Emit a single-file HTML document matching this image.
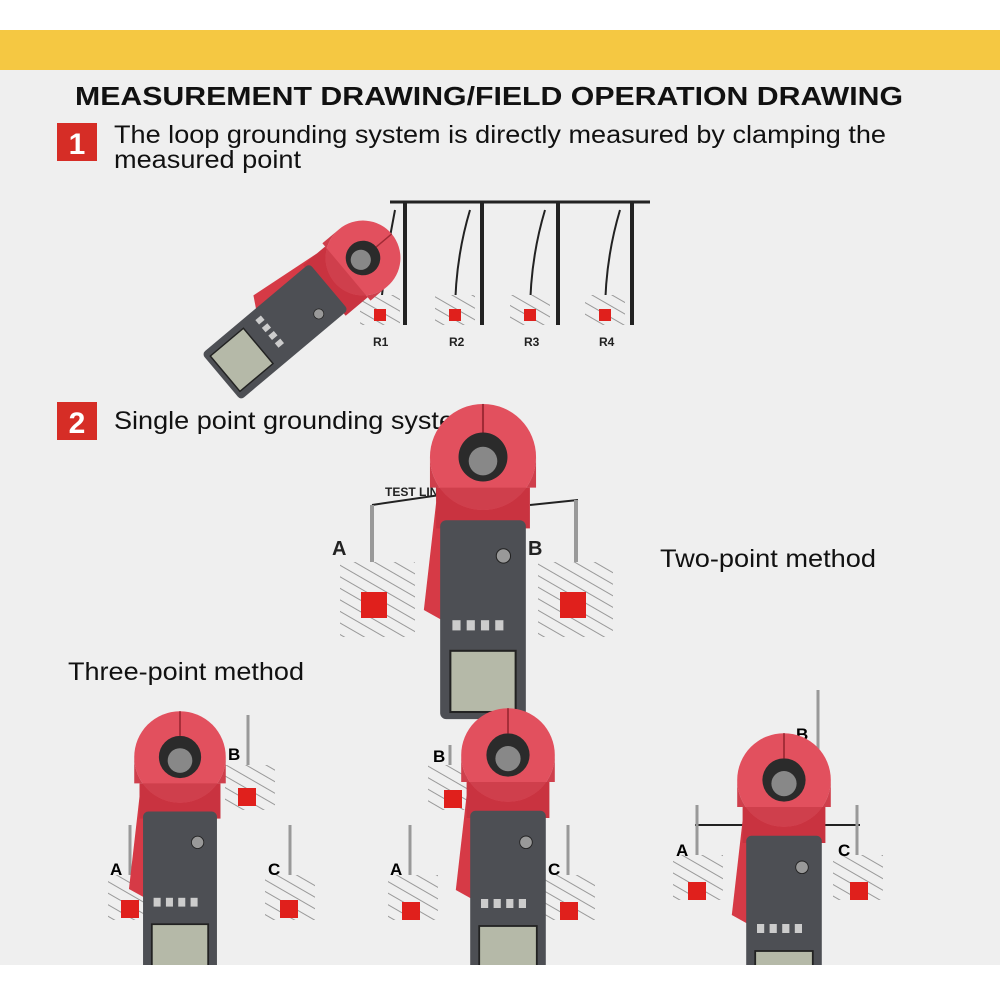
<!DOCTYPE html>
<html><head><meta charset="utf-8"><style>
body{margin:0;width:1000px;height:1000px;overflow:hidden;background:#fff;font-family:"Liberation Sans",sans-serif}
</style></head><body>
<svg width="1000" height="1000" viewBox="0 0 1000 1000" xmlns="http://www.w3.org/2000/svg">
<defs>
<pattern id="h" width="10" height="10" patternUnits="userSpaceOnUse" patternTransform="rotate(-60)">
<rect width="10" height="10" fill="#efefef"/><line x1="0" y1="0" x2="0" y2="10" stroke="#999" stroke-width="2"/></pattern>
<g id="m">
<path d="M-46 45 L-58 150 L-40 160 L-38 60Z" fill="#d63a46"/>
<rect x="-46" y="30" width="92" height="40" fill="#c93340"/>
<circle cx="0" cy="0" r="52" fill="#e2505e"/>
<path d="M-52 0 A52 52 0 0 0 52 0 L52 30 L-52 30Z" fill="#cf3f4c"/>
<circle cx="0" cy="0" r="24" fill="#2b2b2b"/>
<circle cx="0" cy="4" r="14" fill="#888"/>
<line x1="0" y1="-52" x2="0" y2="-24" stroke="#a02a35" stroke-width="2"/>
<rect x="-42" y="62" width="84" height="195" rx="6" fill="#4d4f54"/>
<circle cx="20" cy="97" r="7" fill="#999" stroke="#222"/>
<rect x="-30" y="160" width="8" height="10" fill="#ccc"/><rect x="-16" y="160" width="8" height="10" fill="#ccc"/>
<rect x="-2" y="160" width="8" height="10" fill="#ccc"/><rect x="12" y="160" width="8" height="10" fill="#ccc"/>
<rect x="-32" y="190" width="64" height="60" fill="#b5b9a8" stroke="#222" stroke-width="2"/>
</g>
</defs>
<rect x="0" y="0" width="1000" height="30" fill="#fff"/>
<rect x="0" y="30" width="1000" height="40" fill="#f5c842"/>
<rect x="0" y="70" width="1000" height="895" fill="#efefef"/>
<text x="75" y="105" font-size="26" font-weight="bold" fill="#111" textLength="828" lengthAdjust="spacingAndGlyphs">MEASUREMENT DRAWING/FIELD OPERATION DRAWING</text>
<rect x="57" y="123" width="40" height="38" fill="#d62d26"/>
<text x="77" y="154" text-anchor="middle" font-size="30" font-weight="bold" fill="#fff">1</text>
<text x="114" y="143" font-size="25" fill="#111" textLength="772" lengthAdjust="spacingAndGlyphs">The loop grounding system is directly measured by clamping the</text>
<text x="114" y="168" font-size="25" fill="#111" textLength="187" lengthAdjust="spacingAndGlyphs">measured point</text>
<rect x="57" y="402" width="40" height="38" fill="#d62d26"/>
<text x="77" y="433" text-anchor="middle" font-size="30" font-weight="bold" fill="#fff">2</text>
<text x="114" y="429" font-size="25" fill="#111" textLength="340" lengthAdjust="spacingAndGlyphs">Single point grounding syste</text>
<g stroke="#222" stroke-width="4" fill="none">
<line x1="390" y1="202" x2="650" y2="202" stroke-width="3"/>
<line x1="405" y1="202" x2="405" y2="325"/><line x1="482" y1="202" x2="482" y2="325"/>
<line x1="558" y1="202" x2="558" y2="325"/><line x1="632" y1="202" x2="632" y2="325"/>
<path d="M395 210 Q385 260 380 315" stroke-width="2"/><path d="M470 210 Q455 260 455 315" stroke-width="2"/>
<path d="M545 210 Q530 260 530 315" stroke-width="2"/><path d="M620 210 Q605 260 605 315" stroke-width="2"/>
</g>
<g fill="url(#h)"><rect x="360" y="295" width="40" height="30"/><rect x="435" y="295" width="40" height="30"/><rect x="510" y="295" width="40" height="30"/><rect x="585" y="295" width="40" height="30"/></g>
<g fill="#e0201c"><rect x="374" y="309" width="12" height="12"/><rect x="449" y="309" width="12" height="12"/><rect x="524" y="309" width="12" height="12"/><rect x="599" y="309" width="12" height="12"/></g>
<g font-size="12" font-weight="bold" fill="#222"><text x="373" y="346">R1</text><text x="449" y="346">R2</text><text x="524" y="346">R3</text><text x="599" y="346">R4</text></g>
<use href="#m" transform="translate(363,258) rotate(50) scale(0.72)"/>
<text x="385" y="496" font-size="12" font-weight="bold" fill="#222">TEST LIN</text>
<path d="M372 505 L440 495 M530 505 L578 500" stroke="#222" stroke-width="2" fill="none"/>
<line x1="372" y1="505" x2="372" y2="600" stroke="#999" stroke-width="4"/>
<line x1="576" y1="500" x2="576" y2="600" stroke="#999" stroke-width="4"/>
<rect x="340" y="562" width="75" height="75" fill="url(#h)"/><rect x="538" y="562" width="75" height="75" fill="url(#h)"/>
<rect x="361" y="592" width="26" height="26" fill="#e0201c"/><rect x="560" y="592" width="26" height="26" fill="#e0201c"/>
<text x="332" y="555" font-size="20" font-weight="bold" fill="#222">A</text>
<text x="528" y="555" font-size="20" font-weight="bold" fill="#222">B</text>
<text x="660" y="567" font-size="25" fill="#111" textLength="216" lengthAdjust="spacingAndGlyphs">Two-point method</text>
<use href="#m" transform="translate(483,457) scale(1.02)"/>
<text x="68" y="680" font-size="25" fill="#111" textLength="236" lengthAdjust="spacingAndGlyphs">Three-point method</text>
<g>
<line x1="248" y1="715" x2="248" y2="800" stroke="#999" stroke-width="3"/>
<rect x="225" y="765" width="50" height="45" fill="url(#h)"/><rect x="238" y="788" width="18" height="18" fill="#e0201c"/>
<line x1="130" y1="825" x2="130" y2="920" stroke="#999" stroke-width="3"/>
<rect x="108" y="875" width="50" height="45" fill="url(#h)"/><rect x="121" y="900" width="18" height="18" fill="#e0201c"/>
<line x1="290" y1="825" x2="290" y2="920" stroke="#999" stroke-width="3"/>
<rect x="265" y="875" width="50" height="45" fill="url(#h)"/><rect x="280" y="900" width="18" height="18" fill="#e0201c"/>
<text x="110" y="875" font-size="17" font-weight="bold">A</text><text x="228" y="760" font-size="17" font-weight="bold">B</text><text x="268" y="875" font-size="17" font-weight="bold">C</text>
<use href="#m" transform="translate(180,757) scale(0.88)"/>
</g>
<g>
<line x1="450" y1="745" x2="450" y2="800" stroke="#999" stroke-width="3"/>
<rect x="428" y="765" width="50" height="45" fill="url(#h)"/><rect x="444" y="790" width="18" height="18" fill="#e0201c"/>
<line x1="410" y1="825" x2="410" y2="920" stroke="#999" stroke-width="3"/>
<rect x="388" y="875" width="50" height="45" fill="url(#h)"/><rect x="402" y="902" width="18" height="18" fill="#e0201c"/>
<line x1="568" y1="825" x2="568" y2="920" stroke="#999" stroke-width="3"/>
<rect x="545" y="875" width="50" height="45" fill="url(#h)"/><rect x="560" y="902" width="18" height="18" fill="#e0201c"/>
<text x="390" y="875" font-size="17" font-weight="bold">A</text><text x="433" y="762" font-size="17" font-weight="bold">B</text><text x="548" y="875" font-size="17" font-weight="bold">C</text>
<use href="#m" transform="translate(508,755) scale(0.9)"/>
</g>
<g>
<line x1="818" y1="690" x2="818" y2="790" stroke="#999" stroke-width="3"/>
<line x1="695" y1="825" x2="860" y2="825" stroke="#222" stroke-width="2"/>
<line x1="697" y1="805" x2="697" y2="900" stroke="#999" stroke-width="3"/>
<line x1="857" y1="805" x2="857" y2="900" stroke="#999" stroke-width="3"/>
<rect x="673" y="855" width="50" height="45" fill="url(#h)"/><rect x="688" y="882" width="18" height="18" fill="#e0201c"/>
<rect x="833" y="855" width="50" height="45" fill="url(#h)"/><rect x="850" y="882" width="18" height="18" fill="#e0201c"/>
<text x="676" y="856" font-size="17" font-weight="bold">A</text><text x="796" y="740" font-size="17" font-weight="bold">B</text><text x="838" y="856" font-size="17" font-weight="bold">C</text>
<use href="#m" transform="translate(784,780) scale(0.9)"/>
</g>
<rect x="0" y="965" width="1000" height="35" fill="#fff"/>
</svg>
</body></html>
